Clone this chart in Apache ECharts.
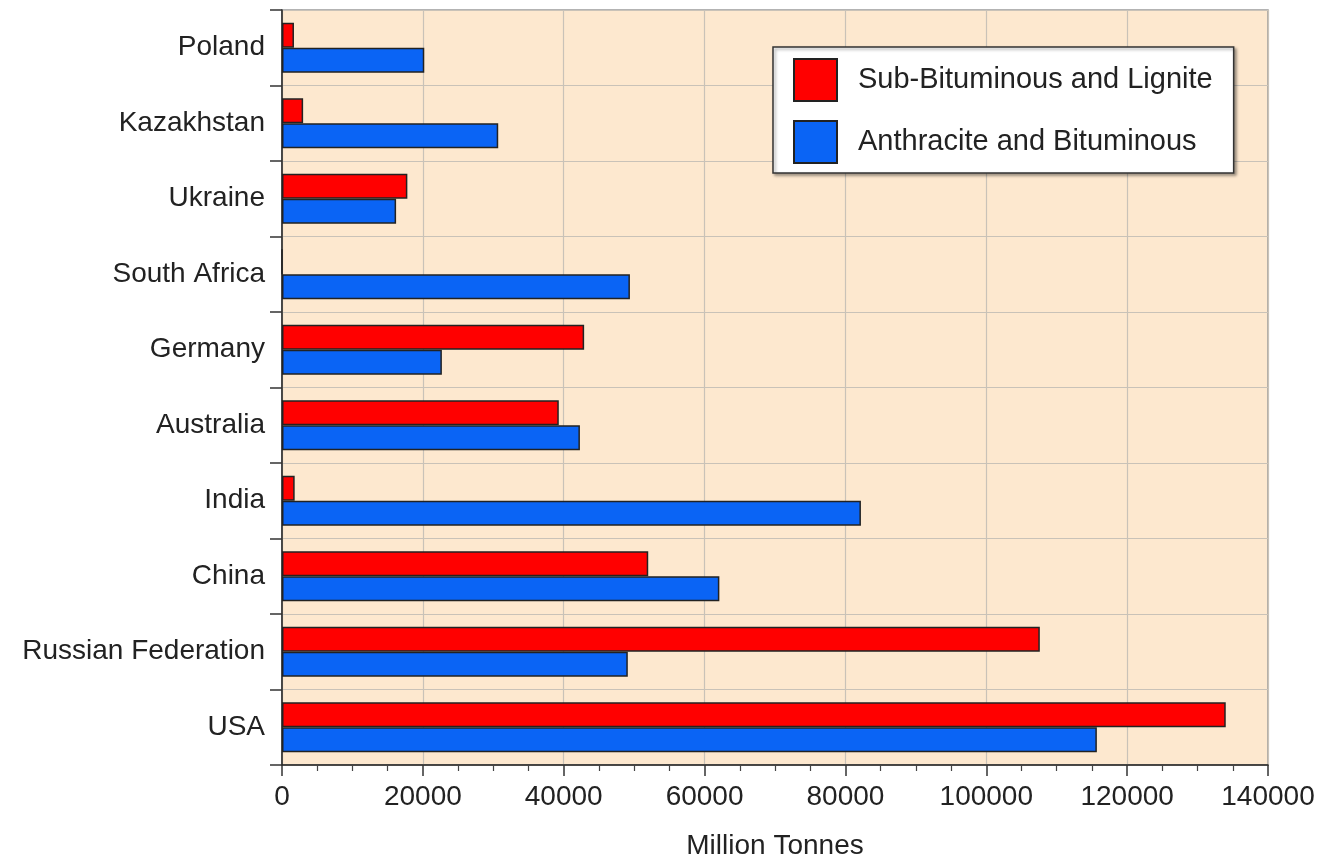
<!DOCTYPE html>
<html>
<head>
<meta charset="utf-8">
<script src="https://cdn.jsdelivr.net/npm/echarts@6/dist/echarts.min.js"></script>
<style>html,body{margin:0;padding:0;background:#fff;}#c{width:1322px;height:865px;}</style>
</head>
<body>
<div id="c"></div>
<script>
const categories = ['Poland','Kazakhstan','Ukraine','South Africa','Germany','Australia','India','China','Russian Federation','USA'];
const subBituminous = [1700, 3000, 17800, 0, 42900, 39300, 1800, 52000, 107600, 134000];
const anthracite = [20200, 30700, 16200, 49400, 22700, 42300, 82200, 62100, 49100, 115700];
const seriesNames = ['Sub-Bituminous and Lignite', 'Anthracite and Bituminous'];
const xTicks = {min: 0, max: 140000, interval: 20000};

const font = 'Liberation Sans, Arial, Helvetica, sans-serif';
const chart = echarts.init(document.getElementById('c'));
chart.setOption({
  animation: false,
  textStyle: {fontFamily: font},
  grid: {left: 282, right: 54, top: 10, bottom: 97, show: true, backgroundColor: '#fde8cf', borderColor: '#9a9a9a', borderWidth: 1.5},
  legend: {
    orient: 'vertical', left: 773, top: 47,
    padding: [11, 21, 9, 20], itemGap: 18, itemWidth: 43, itemHeight: 42,
    icon: 'rect',
    backgroundColor: '#fff', borderColor: '#333', borderWidth: 1.5,
    shadowColor: 'rgba(0,0,0,0.35)', shadowBlur: 3, shadowOffsetX: 2, shadowOffsetY: 2,
    textStyle: {fontSize: 29, color: '#222', fontFamily: font, padding: [0, 0, 0, 16]},
    data: seriesNames
  },
  xAxis: {
    type: 'value', min: xTicks.min, max: xTicks.max, interval: xTicks.interval,
    name: 'Million Tonnes', nameLocation: 'middle', nameGap: 67,
    nameTextStyle: {fontSize: 28, color: '#222', fontFamily: font},
    axisLine: {show: true, lineStyle: {color: '#222', width: 1.5}},
    axisTick: {show: true, length: 11, lineStyle: {color: '#333', width: 1.5}},
    minorTick: {show: true, splitNumber: 4, length: 6, lineStyle: {color: '#444', width: 1.2}},
    axisLabel: {fontSize: 28, color: '#222', margin: 18, fontFamily: font, formatter: v => String(v)},
    splitLine: {show: true, lineStyle: {color: '#c9c2b8', width: 1.2}}
  },
  yAxis: {
    type: 'category', data: categories, inverse: true,
    axisLine: {show: true, lineStyle: {color: '#222', width: 1.5}},
    axisTick: {show: true, length: 12, lineStyle: {color: '#333', width: 1.5}},
    axisLabel: {fontSize: 28, color: '#222', margin: 17, fontFamily: font},
    splitLine: {show: true, lineStyle: {color: '#c9c2b8', width: 1.2}}
  },
  series: [
    {name: seriesNames[0], type: 'bar', data: subBituminous, barGap: '0%', barCategoryGap: '34%',
     itemStyle: {color: '#ff0000', borderColor: '#222', borderWidth: 1.5}},
    {name: seriesNames[1], type: 'bar', data: anthracite, barGap: '0%', barCategoryGap: '34%',
     itemStyle: {color: '#0a64f5', borderColor: '#222', borderWidth: 1.5}}
  ]
});
</script>
</body>
</html>
